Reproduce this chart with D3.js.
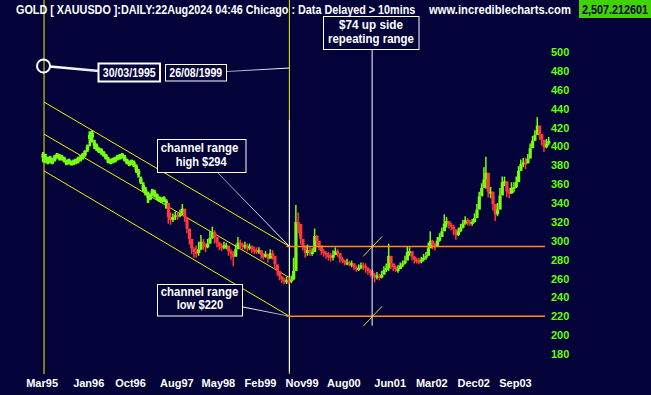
<!DOCTYPE html>
<html>
<head>
<meta charset="utf-8">
<script src="https://cdn.jsdelivr.net/npm/d3@7"></script>
<style>
  html, body { margin: 0; padding: 0; background: #03033a; }
  svg { display: block; }
  text { font-family: "Liberation Sans", Arial, sans-serif; font-weight: bold; }
</style>
</head>
<body>
<svg id="chart" width="651" height="395"></svg>
<script>
// semi-monthly bars, first one 16 Mar 1995, then 1st / 16th of each month
var firstBar = "1995-03-16";
var closes = [
  390,387,385,386,384,388,390,389,388,386, 383,384,382,383,384,386,387,390,393,398,
  410,412,402,399,396,395,392,389,385,384, 385,386,388,389,390,387,384,382,383,381,
  377,372,364,357,352,348,346,351,350,347, 344,343,344,340,325,322,325,327,326,329,
  334,325,313,302,292,288,287,291,299,296, 293,297,303,309,304,298,294,293,295,295,
  289,286,283,291,298,296,294,295,293,294, 291,290,289,290,285,283,286,281,287,284,
  275,268,262,259,257,258,257,259,268,320, 318,302,295,287,290,288,288,305,300,295,
  289,287,285,284,282,285,289,287,281,279, 277,277,276,276,272,270,271,274,273,271,
  268,266,264,262,263,261,264,269,271,284, 276,272,270,270,274,276,279,288,289,283,
  280,279,278,280,282,284,292,300,296,294, 300,304,310,318,321,317,315,312,306,310,
  314,318,322,320,319,320,324,333,347,356, 365,372,352,352,339,328,333,348,362,363,
  352,350,356,357,362,374,381,383,382,387, 398,406,412,422,413,407,399,403,406
];
var highs = [
  394,392,389,390,388,391,393,392,391,389, 386,387,385,386,387,389,391,393,396,402,
  416,417,407,403,399,398,395,392,389,387, 388,389,391,392,393,391,387,385,386,385,
  381,376,368,362,357,352,350,355,354,350, 347,346,347,344,338,330,329,331,330,333,
  339,331,322,310,300,293,295,299,306,302, 297,302,310,315,311,303,299,297,299,298,
  293,291,289,296,304,301,298,299,297,297, 295,294,293,293,289,287,289,285,291,290,
  282,274,267,263,261,262,261,263,282,338, 330,312,301,294,296,293,292,313,306,300,
  294,291,289,288,287,290,293,291,285,283, 280,281,279,279,276,274,275,277,277,276,
  272,270,269,266,267,265,268,273,276,297, 282,276,274,274,277,279,284,294,293,288,
  284,282,282,283,286,288,298,310,301,298, 304,308,314,328,325,321,319,317,312,314,
  318,322,326,324,322,323,329,339,352,361, 378,389,360,357,347,336,340,356,368,368,
  358,356,362,362,368,379,386,388,388,392, 403,411,417,431,420,413,404,408,410
];
var lows = [
  383,382,381,382,381,384,387,385,385,383, 380,381,380,380,381,382,384,386,389,394,
  400,404,397,395,393,391,389,386,382,381, 382,383,385,386,387,384,381,379,380,378,
  372,367,360,352,348,340,343,347,346,343, 341,340,341,334,318,317,320,322,322,325,
  327,320,308,296,286,282,282,284,290,290, 288,292,297,302,297,293,290,289,291,291,
  284,280,273,285,292,291,290,291,289,290, 287,286,286,286,281,280,282,277,283,280,
  270,263,258,255,254,254,254,255,258,290, 308,296,290,282,284,284,284,290,294,290,
  285,283,281,279,278,279,285,283,277,276, 274,274,273,272,269,267,268,270,269,266,
  264,262,260,256,259,258,260,265,267,268, 270,268,267,266,270,272,275,280,284,279,
  276,276,275,276,278,280,285,293,291,290, 295,299,305,311,314,313,311,306,301,305,
  309,313,317,316,316,316,319,326,340,350, 357,355,346,345,332,321,326,340,355,358,
  346,345,350,351,356,368,376,378,376,382, 392,400,406,414,407,401,394,398,401
];
var candleFrom = "1997-06-16";   // earlier bars have no open -> plain green hi/lo

var xTicks = ["1995-03-01","1996-01-01","1996-10-01","1997-08-01","1998-05-01","1999-02-01",
              "1999-11-01","2000-08-01","2001-06-01","2002-03-01","2002-12-01","2003-09-01"];
var yTicks = [180,200,220,240,260,280,300,320,340,360,380,400,420,440,460,480,500];

var channelTop = [["1995-03-30",447],["1999-08-26",294]];
var channelMid = [["1995-03-30",413],["1999-08-26",261]];
var channelLow = [["1995-03-30",374],["1999-08-26",220]];
var markDates = ["1995-03-30","1999-08-26"];
var rangeHigh = 294, rangeLow = 220;
var rangeDate = "2001-02-19";

var W = 651, H = 395;
var parse = d3.timeParse("%Y-%m-%d");
var svg = d3.select("#chart");

svg.append("rect").attr("width", W).attr("height", H).attr("fill", "#03033a");

var x = d3.scaleTime()
  .domain([parse("1995-03-01"), parse("2004-04-01")])
  .range([39.6, 545.4]);
var y = d3.scaleLinear().domain([180, 500]).range([354, 52]);

var bars = closes.map(function(c, i) {
  var d = new Date(1995, 2 + Math.ceil(i / 2), i % 2 ? 1 : 16);
  return { date: d, close: c, high: highs[i], low: lows[i], open: i ? closes[i - 1] : c };
});

var green = "#77ff11", red = "#ff3838", yellow = "#f0f000", orange = "#ff8c1a";

// marker verticals
markDates.forEach(function(d) {
  svg.append("line")
    .attr("x1", x(parse(d))).attr("x2", x(parse(d)))
    .attr("y1", 0).attr("y2", 374)
    .attr("stroke", yellow).attr("stroke-width", 1);
});
svg.append("line")
  .attr("x1", x(parse(markDates[1]))).attr("x2", x(parse(markDates[1])))
  .attr("y1", 120).attr("y2", 372)
  .attr("stroke", "#ffffff").attr("stroke-width", 1);

// channel
[channelTop, channelMid, channelLow].forEach(function(c) {
  svg.append("line")
    .attr("x1", x(parse(c[0][0]))).attr("y1", y(c[0][1]))
    .attr("x2", x(parse(c[1][0]))).attr("y2", y(c[1][1]))
    .attr("stroke", yellow).attr("stroke-width", 1);
});

// bars
var cutoff = parse(candleFrom);
var g = svg.append("g");
bars.forEach(function(b) {
  var cx = x(b.date) + 1;
  if (b.date < cutoff) {
    g.append("rect")
      .attr("x", cx - 1).attr("width", 2.5)
      .attr("y", y(b.high)).attr("height", y(b.low) - y(b.high))
      .attr("fill", green);
    g.append("rect")
      .attr("x", cx - 1.5).attr("width", 3.5)
      .attr("y", y(b.close) - 2).attr("height", 4)
      .attr("fill", green);
    return;
  }
  var col = b.close >= b.open ? green : red;
  g.append("line")
    .attr("x1", cx).attr("x2", cx)
    .attr("y1", y(b.high)).attr("y2", y(b.low))
    .attr("stroke", col).attr("stroke-width", 1.5);
  var top = y(Math.max(b.open, b.close)), bot = y(Math.min(b.open, b.close));
  g.append("rect")
    .attr("x", cx - 1.5).attr("width", 3.2)
    .attr("y", top).attr("height", Math.max(2, bot - top))
    .attr("fill", col);
});

// range lines
var xr0 = x(parse(markDates[1])) - 3, xr1 = 545;
[rangeHigh, rangeLow].forEach(function(p) {
  svg.append("line")
    .attr("x1", xr0).attr("x2", xr1).attr("y1", y(p)).attr("y2", y(p))
    .attr("stroke", orange).attr("stroke-width", 1.5);
});

// $74 range marker
var xr = x(parse(rangeDate));
svg.append("line")
  .attr("x1", xr).attr("x2", xr).attr("y1", 49).attr("y2", y(210))
  .attr("stroke", "#ffffff").attr("stroke-width", 1);
[rangeHigh, rangeLow].forEach(function(p) {
  svg.append("line")
    .attr("x1", xr - 9).attr("y1", y(p) + 10)
    .attr("x2", xr + 10).attr("y2", y(p) - 10)
    .attr("stroke", "#d8d830").attr("stroke-width", 1);
});

// gradients for pointer lines
var defs = svg.append("defs");
function grad(id, x1, y1, x2, y2, c1, c2) {
  var lg = defs.append("linearGradient").attr("id", id)
    .attr("gradientUnits", "userSpaceOnUse")
    .attr("x1", x1).attr("y1", y1).attr("x2", x2).attr("y2", y2);
  lg.append("stop").attr("offset", 0).attr("stop-color", c1);
  lg.append("stop").attr("offset", 1).attr("stop-color", c2);
}
function pointer(id, x1, y1, x2, y2, c1, c2, w) {
  grad(id, x1, y1, x2, y2, c1, c2);
  svg.append("line").attr("x1", x1).attr("y1", y1).attr("x2", x2).attr("y2", y2)
    .attr("stroke", "url(#" + id + ")").attr("stroke-width", w);
}

var xm0 = x(parse(markDates[0])), xm1 = x(parse(markDates[1]));
pointer("gp1", xm0 + 6, 66.5, 99, 71, "#ffffff", "#e8e8ff", 2.5);
pointer("gp2", 227, 71.5, xm1, 68, "#9a9ab8", "#ffffff", 1);
pointer("gp3", 217, 172, xm1, y(rangeHigh), "#8888aa", "#ffffff", 1);
pointer("gp4", 243, 307, xm1, y(rangeLow), "#ffffff", "#8888aa", 1);

svg.append("circle").attr("cx", xm0 - 0.5).attr("cy", 66).attr("r", 6.5)
  .attr("fill", "none").attr("stroke", "#ffffff").attr("stroke-width", 2);

function box(x0, y0, w, h, sw) {
  svg.append("rect").attr("x", x0).attr("y", y0).attr("width", w).attr("height", h)
    .attr("fill", "#03033a").attr("stroke", "#ffffff").attr("stroke-width", sw);
}
// text squeezed to the width seen in the reference (narrow bold font)
function label(t, px, by, w, size, col, anchor) {
  var gt = svg.append("g");
  var txt = gt.append("text").attr("x", 0).attr("y", 0)
    .attr("font-size", size).attr("fill", col || "#ffffff")
    .text(t);
  var nat = txt.node().getComputedTextLength();
  var sx = w / nat;
  var left = anchor === "start" ? px : px - w / 2;
  gt.attr("transform", "translate(" + left + "," + by + ") scale(" + sx + ",1)");
}

box(98.5, 63.5, 61.5, 18, 2);
label("30/03/1995", 129.3, 76.7, 53, 12);
box(165.5, 64.5, 61, 16.5, 1);
label("26/08/1999", 195.8, 76.7, 53, 12);

box(323.5, 16.5, 95.5, 33, 1);
label("$74 up side", 371, 29.3, 64, 12);
label("repeating range", 371, 43.3, 86, 12);

box(157.5, 139.5, 88.5, 33, 1);
label("channel range", 199.5, 151.7, 77.6, 12);
label("high $294", 201.2, 165.5, 51, 12);

box(157.5, 284.5, 85, 31.5, 1);
label("channel range", 199.5, 295.7, 77.6, 12);
label("low $220", 200, 309.3, 46.7, 12);

// header
label("GOLD [ XAUUSDO ]:DAILY:22Aug2024 04:46 Chicago : Data Delayed > 10mins", 16, 14, 400, 13, "#ffffff", "start");
label("www.incrediblecharts.com", 429, 14, 142, 13, "#ffffff", "start");
svg.append("rect").attr("x", 579).attr("y", 0).attr("width", 72).attr("height", 18).attr("fill", "#3fd400");
label("2,507.212601", 582, 14, 66, 13, "#03033a", "start");

// axes
var yAxis = svg.append("g").attr("transform", "translate(551,0)")
  .call(d3.axisRight(y).tickValues(yTicks).tickSize(0).tickPadding(0));
yAxis.select(".domain").remove();
yAxis.selectAll("text").attr("fill", "#66ff00").attr("font-size", 11)
  .attr("font-family", "Liberation Sans, Arial, sans-serif").attr("font-weight", "bold");

var xAxis = svg.append("g").attr("transform", "translate(2,379)")
  .call(d3.axisBottom(x).tickValues(xTicks.map(parse)).tickFormat(d3.timeFormat("%b%y"))
    .tickSize(0).tickPadding(0));
xAxis.select(".domain").remove();
xAxis.selectAll("text").attr("fill", "#ffffff").attr("font-size", 11)
  .attr("font-family", "Liberation Sans, Arial, sans-serif").attr("font-weight", "bold");
</script>
</body>
</html>
